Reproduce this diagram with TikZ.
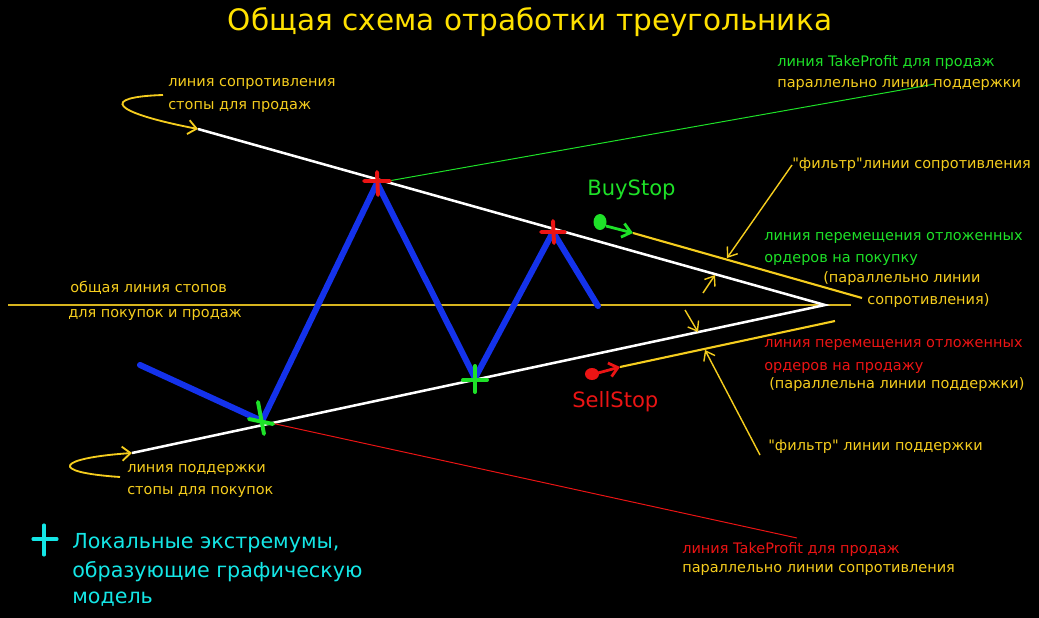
\documentclass[tikz,border=0pt]{standalone}
\usepackage{fontspec}
\setmainfont{DejaVu Sans}
\usepackage{tikz}
\usetikzlibrary{arrows.meta}
\definecolor{ylw}{RGB}{245,205,30}
\definecolor{ttl}{RGB}{255,225,0}
\definecolor{grn}{RGB}{30,225,40}
\definecolor{rd}{RGB}{235,20,20}
\definecolor{blu}{RGB}{20,50,235}
\definecolor{cyn}{RGB}{20,230,230}
\definecolor{gld}{RGB}{215,180,30}
\tikzset{
  lbl/.style={anchor=west, inner sep=0pt, font=\fontsize{10.3}{12}\selectfont},
  big/.style={anchor=west, inner sep=0pt, font=\fontsize{15}{18}\selectfont},
  trend/.style={white, line width=1.8pt},
  zig/.style={blu, line width=4.3pt, line cap=round, line join=round},
  crs/.style={line width=2.8pt, line cap=round},
  thinline/.style={line width=0.7pt},
  filt/.style={ylw, line width=1pt, -{Straight Barb[length=6pt,width=9pt]}},
  curv/.style={ylw, line width=1.3pt, -{Straight Barb[length=6pt,width=10pt]}},
}

\begin{document}
\begin{tikzpicture}[x=0.025cm,y=-0.025cm]
          \useasboundingbox (0,0) rectangle (1039,618);
          \fill[black] (0,0) rectangle (1039,618);
          \node[ttl, inner sep=0pt, font=\fontsize{21}{24}\selectfont] (title) at (530,22) {Общая схема отработки треугольника};
          \coordinate (res0) at (198,129);
          \coordinate (sup0) at (132,453);
          \coordinate (apex) at (825,305);
          \coordinate (h0) at (8,305);
          \coordinate (h1) at (851,305);
          \coordinate (z0) at (140,365);
          \coordinate (tr1) at (262,421);
          \coordinate (pk1) at (377,183);
          \coordinate (tr2) at (475,378);
          \coordinate (pk2) at (553,232);
          \coordinate (z5) at (598,306);
          \draw[gld, line width=1.1pt] (h0) -- (h1);
          \draw[trend] (res0) -- (apex) -- (sup0);
          \coordinate (tpg) at (935,84);
          \coordinate (tpr) at (797,538);
          \draw[grn, thinline] (pk1) -- (tpg);
          \draw[rd, thinline] (tr1) -- (tpr);
          \draw[zig] (z0) -- (tr1) -- (pk1) -- (tr2) -- (pk2) -- (z5);
          \draw[crs, rd] (pk1) +(-13,-2) -- +(13,-2) (pk1) +(0,-11) -- +(1,12);
          \draw[crs, rd] (pk2) +(-12,0) -- +(12,0) (pk2) +(0,-11) -- +(1,11);
          \draw[crs, grn] (tr1) +(-13,-2) -- +(11,3) (tr1) +(-4,-19) -- +(2,13);
          \draw[crs, grn] (tr2) +(-12,2) -- +(12,2) (tr2) +(0,-12) -- +(0,14);
          % BuyStop
          \node[big, grn] (buy) at (587,190) {BuyStop};
          \fill[grn] (600,222) ellipse (6.5 and 8);
          \coordinate (bdot) at (606,226);
          \coordinate (b0) at (633,233);
          \coordinate (b1) at (862,298);
          \draw[grn, line width=2pt, -{Straight Barb[length=6pt,width=10pt]}] (bdot) -- (b0);
          \draw[ylw, line width=1.5pt] (b0) -- (b1);
          % SellStop
          \node[big, rd] (sell) at (572,402) {SellStop};
          \fill[rd] (592,374) ellipse (7 and 6);
          \coordinate (sdot) at (598,373);
          \coordinate (s0) at (620,367);
          \coordinate (s1) at (835,321);
          \draw[rd, line width=2pt, -{Straight Barb[length=6pt,width=10pt]}] (sdot) -- (s0);
          \draw[ylw, line width=1.5pt] (s0) -- (s1);
          % filters
          \node[lbl, ylw] (fres) at (792,165) {\textquotedbl фильтр\textquotedbl линии сопротивления};
          \coordinate (fr1) at (727,258);
          \coordinate (fr2) at (703,293);
          \coordinate (fr3) at (715,275);
          \draw[filt] (fres.west) -- (fr1);
          \draw[filt] (fr2) -- (fr3);
          \node[lbl, ylw] (fsup) at (768,447) {\textquotedbl фильтр\textquotedbl{} линии поддержки};
          \coordinate (fs0) at (685,310);
          \coordinate (fs1) at (698,332);
          \coordinate (fs2) at (760,455);
          \coordinate (fs3) at (705,350);
          \draw[filt] (fs0) -- (fs1);
          \draw[filt] (fs2) -- (fs3);
          % labels
          \node[lbl, ylw] (res1) at (168,84) {линия сопротивления};
          \node[lbl, ylw] (res2) at (168,107) {стопы для продаж};
          \draw[curv] (163,95) .. controls (100,97) and (110,112) .. (res0);
          \node[lbl, ylw] (sup1) at (127,470) {линия поддержки};
          \node[lbl, ylw] (sup2) at (127,492) {стопы для покупок};
          \draw[curv] (120,477) .. controls (46,472) and (58,458) .. (sup0);
          \node[lbl, ylw] (com1) at (70,288) {общая линия стопов};
          \node[lbl, ylw] (com2) at (68,315) {для покупок и продаж};
          \node[lbl, grn] (tpg1) at (777,63) {линия TakeProfit для продаж};
          \node[lbl, ylw] (tpg2) at (777,85) {параллельно линии поддержки};
          \node[lbl, grn] (bl1) at (764,238) {линия перемещения отложенных};
          \node[lbl, grn] (bl2) at (764,260) {ордеров на покупку};
          \node[lbl, ylw] (bl3) at (823,279) {(параллельно линии};
          \node[lbl, ylw] (bl4) at (867,301) {сопротивления)};
          \node[lbl, rd] (sl1) at (764,345) {линия перемещения отложенных};
          \node[lbl, rd] (sl2) at (764,368) {ордеров на продажу};
          \node[lbl, ylw] (sl3) at (769,385) {(параллельна линии поддержки)};
          \node[lbl, rd] (tpr1) at (682,549) {линия TakeProfit для продаж};
          \node[lbl, ylw] (tpr2) at (682,570) {параллельно линии сопротивления};
          % legend
          \draw[crs, cyn, line width=2.2pt] (44,539) +(-11,0) -- +(13,0) (44,539) +(0,-14) -- +(0,16);
          \node[big, cyn, font=\fontsize{14.7}{18}\selectfont] (leg1) at (72,543) {Локальные экстремумы,};
          \node[big, cyn, font=\fontsize{14.7}{18}\selectfont] (leg2) at (72,572) {образующие графическую};
          \node[big, cyn, font=\fontsize{14.7}{18}\selectfont] (leg3) at (72,599) {модель};
        \end{tikzpicture}
\end{document}
